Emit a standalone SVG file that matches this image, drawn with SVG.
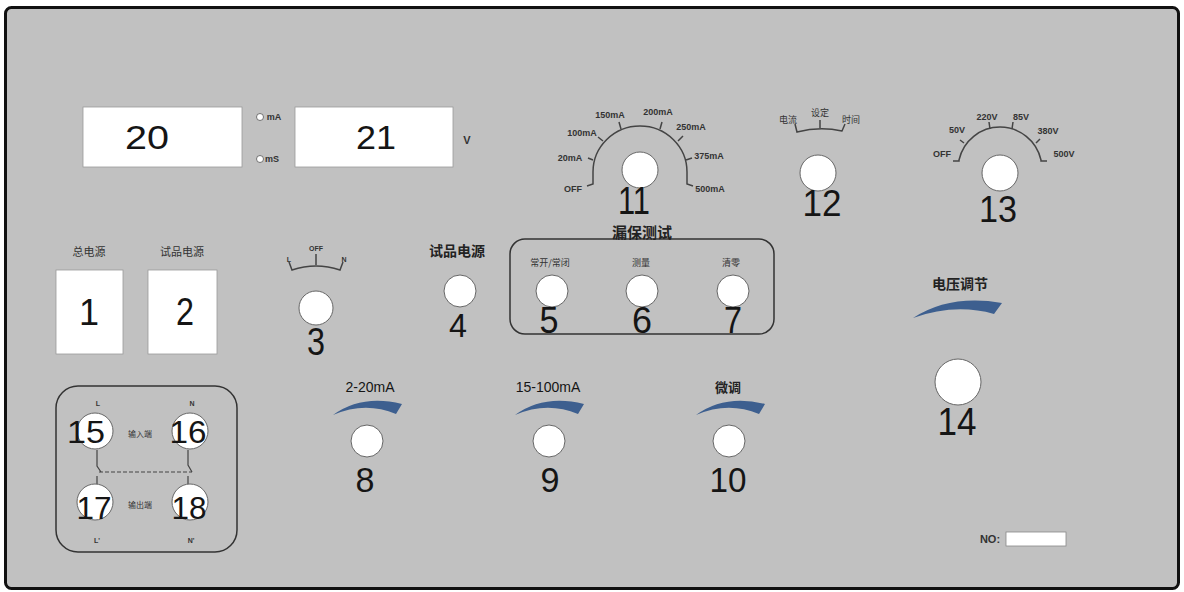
<svg xmlns="http://www.w3.org/2000/svg" width="1184" height="592" viewBox="0 0 1184 592">
<style>
.num{font-family:"Liberation Sans",Arial,sans-serif;fill:#151515;text-anchor:middle}
.lab{font-family:"Liberation Sans","Noto Sans CJK SC",sans-serif;fill:#333;text-anchor:middle;font-weight:bold}
.cn{font-family:"Noto Sans CJK SC",sans-serif;fill:#333;text-anchor:middle}
.title{font-family:"Noto Sans CJK SC",sans-serif;fill:#222;text-anchor:middle;font-weight:bold}
.knob{fill:#fff;stroke:#666;stroke-width:1}
.scale{fill:none;stroke:#444;stroke-width:1.5}
.swoosh{fill:#3d5f8f}
.wbox{fill:#fff;stroke:#999;stroke-width:0.8}
</style>
<rect x="0" y="0" width="1184" height="592" fill="#fff"/>
<rect id="panel" x="5.5" y="7.5" width="1173" height="581" rx="6" fill="#c1c1c1" stroke="#111" stroke-width="3"/>

<g id="display20">
<rect class="wbox" x="83" y="107" width="159" height="60"/>
<text class="num" x="147" y="149" font-size="33" textLength="44" lengthAdjust="spacingAndGlyphs">20</text>
</g>
<g id="unit-select">
<circle cx="260" cy="117" r="3.5" fill="#fff" stroke="#555" stroke-width="0.8"/>
<text class="lab" x="274" y="120" font-size="9">mA</text>
<circle cx="260" cy="159" r="3.5" fill="#fff" stroke="#555" stroke-width="0.8"/>
<text class="lab" x="272" y="162" font-size="9">mS</text>
</g>
<g id="display21">
<rect class="wbox" x="295" y="107" width="158" height="60"/>
<text class="num" x="376" y="149" font-size="33" textLength="40" lengthAdjust="spacingAndGlyphs">21</text>
<text class="lab" x="467" y="144" font-size="11">V</text>
</g>

<g id="dial11">
<path class="scale" d="M587,186 L593,184 L593,172 A47,46 0 0 1 687,172 L687,184 L693,186"/>
<path class="scale" d="M593,160 L588,158 M603,141 L598,137 M621,129 L619,122 M660,129 L662,122 M678,141 L683,136 M686,160 L692,158"/>
<text class="lab" x="573" y="192" font-size="9">OFF</text>
<text class="lab" x="570" y="161" font-size="9">20mA</text>
<text class="lab" x="582" y="136" font-size="9">100mA</text>
<text class="lab" x="610" y="118" font-size="9">150mA</text>
<text class="lab" x="658" y="115" font-size="9">200mA</text>
<text class="lab" x="691" y="130" font-size="9">250mA</text>
<text class="lab" x="709" y="159" font-size="9">375mA</text>
<text class="lab" x="710" y="192" font-size="9">500mA</text>
<circle class="knob" cx="640" cy="170" r="18"/>
<text class="num" x="634" y="214" font-size="38" textLength="32" lengthAdjust="spacingAndGlyphs">11</text>
</g>

<g id="dial12">
<text class="cn" x="788" y="123" font-size="9">电流</text>
<text class="cn" x="820" y="116" font-size="9">设定</text>
<text class="cn" x="851" y="123" font-size="9">时间</text>
<path class="scale" d="M795,124 L797,132 Q820,126 842,131 L845,124 M820,120 L820,128"/>
<circle class="knob" cx="818" cy="173" r="18"/>
<text class="num" x="822" y="216" font-size="36" textLength="39" lengthAdjust="spacingAndGlyphs">12</text>
</g>

<g id="dial13">
<path class="scale" d="M953,161 L959,161 L959,160 A42,42 0 0 1 1041,160 L1041,161 L1047,161"/>
<path class="scale" d="M964,143 L960,140 M990,129 L989,122 M1012,129 L1013,122 M1036,143 L1040,139"/>
<text class="lab" x="942" y="157" font-size="9">OFF</text>
<text class="lab" x="957" y="133" font-size="9">50V</text>
<text class="lab" x="987" y="120" font-size="9">220V</text>
<text class="lab" x="1021" y="120" font-size="9">85V</text>
<text class="lab" x="1048" y="134" font-size="9">380V</text>
<text class="lab" x="1064" y="157" font-size="9">500V</text>
<circle class="knob" cx="1000" cy="173" r="18"/>
<text class="num" x="998" y="222" font-size="36" textLength="38" lengthAdjust="spacingAndGlyphs">13</text>
</g>

<g id="switch1">
<text class="cn" x="89" y="256" font-size="11">总电源</text>
<rect class="wbox" x="56" y="270" width="67" height="84"/>
<text class="num" x="89" y="325" font-size="36">1</text>
</g>
<g id="switch2">
<text class="cn" x="182" y="256" font-size="11">试品电源</text>
<rect class="wbox" x="148" y="270" width="69" height="84"/>
<text class="num" x="185" y="325" font-size="38" textLength="18" lengthAdjust="spacingAndGlyphs">2</text>
</g>

<g id="knob3">
<text class="lab" x="289" y="262" font-size="7">L</text>
<text class="lab" x="316" y="251" font-size="7">OFF</text>
<text class="lab" x="344" y="262" font-size="7">N</text>
<path class="scale" d="M289,262 L292,270 Q316,262 340,270 L343,262 M316,254 L316,265" stroke-width="1.2"/>
<circle class="knob" cx="316" cy="308" r="17"/>
<text class="num" x="316" y="355" font-size="38" textLength="18" lengthAdjust="spacingAndGlyphs">3</text>
</g>

<g id="knob4">
<text class="title" x="457" y="256" font-size="14">试品电源</text>
<circle class="knob" cx="460" cy="291" r="16"/>
<text class="num" x="458" y="337" font-size="34" textLength="18" lengthAdjust="spacingAndGlyphs">4</text>
</g>

<g id="leak-test">
<rect x="510" y="239" width="264" height="95" rx="15" fill="none" stroke="#333" stroke-width="1.5"/>
<text class="title" x="642" y="238" font-size="15">漏保测试</text>
</g>
<g id="knob5">
<text class="cn" x="550" y="266" font-size="9">常开/常闭</text>
<circle class="knob" cx="552" cy="291" r="16"/>
<text class="num" x="549" y="333" font-size="36" textLength="19" lengthAdjust="spacingAndGlyphs">5</text>
</g>
<g id="knob6">
<text class="cn" x="641" y="266" font-size="9">测量</text>
<circle class="knob" cx="642" cy="291" r="16"/>
<text class="num" x="642" y="333" font-size="36" textLength="20" lengthAdjust="spacingAndGlyphs">6</text>
</g>
<g id="knob7">
<text class="cn" x="731" y="266" font-size="9">清零</text>
<circle class="knob" cx="733" cy="291" r="16"/>
<text class="num" x="733" y="333" font-size="36" textLength="18" lengthAdjust="spacingAndGlyphs">7</text>
</g>

<g id="knob8">
<text class="num" x="370" y="392" font-size="14" fill="#222">2-20mA</text>
<path class="swoosh" d="M333,415 Q362,394 402,404 L396,414 Q365,401 333,415 Z"/>
<circle class="knob" cx="367" cy="441" r="16"/>
<text class="num" x="365" y="492" font-size="35" textLength="19" lengthAdjust="spacingAndGlyphs">8</text>
</g>
<g id="knob9">
<text class="num" x="548" y="392" font-size="14" fill="#222">15-100mA</text>
<path class="swoosh" d="M515,415 Q544,394 584,404 L578,414 Q547,401 515,415 Z"/>
<circle class="knob" cx="549" cy="441" r="16"/>
<text class="num" x="550" y="492" font-size="35" textLength="19" lengthAdjust="spacingAndGlyphs">9</text>
</g>
<g id="knob10">
<text class="title" x="728" y="392" font-size="13">微调</text>
<path class="swoosh" d="M696,415 Q725,394 765,404 L759,414 Q728,401 696,415 Z"/>
<circle class="knob" cx="729" cy="441" r="16"/>
<text class="num" x="728" y="492" font-size="35" textLength="37" lengthAdjust="spacingAndGlyphs">10</text>
</g>

<g id="knob14">
<text class="title" x="960" y="289" font-size="14">电压调节</text>
<path class="swoosh" d="M913,318 Q950,294 1002,303 L994,314 Q955,303 913,318 Z"/>
<circle class="knob" cx="958" cy="382" r="23"/>
<text class="num" x="957" y="435" font-size="38" textLength="39" lengthAdjust="spacingAndGlyphs">14</text>
</g>

<g id="terminal-box">
<rect x="56" y="386" width="181" height="166" rx="22" fill="none" stroke="#333" stroke-width="1.5"/>
<text class="lab" x="98" y="406" font-size="7">L</text>
<text class="lab" x="192" y="406" font-size="7">N</text>
<text class="cn" x="140" y="437" font-size="8">输入端</text>
<text class="cn" x="140" y="508" font-size="8">输出端</text>
<text class="lab" x="97" y="543" font-size="7">L'</text>
<text class="lab" x="191" y="543" font-size="7">N'</text>
</g>
<g id="connectors" fill="none" stroke="#444" stroke-width="1.2">
<path d="M97,450 L97,466 L101,472"/>
<path d="M97,476 L97,484"/>
<path d="M188,450 L188,465 L192,472"/>
<path d="M188,476 L188,484"/>
<path d="M99,472 L192,472" stroke-dasharray="4,2"/>
</g>
<g id="t15">
<circle class="knob" cx="95" cy="431" r="18"/>
<text class="num" x="86" y="443" font-size="31" textLength="38" lengthAdjust="spacingAndGlyphs">15</text>
</g>
<g id="t16">
<circle class="knob" cx="190" cy="431" r="18"/>
<text class="num" x="188" y="443" font-size="31" textLength="37" lengthAdjust="spacingAndGlyphs">16</text>
</g>
<g id="t17">
<circle class="knob" cx="95" cy="502" r="18"/>
<text class="num" x="94" y="519" font-size="31" textLength="35" lengthAdjust="spacingAndGlyphs">17</text>
</g>
<g id="t18">
<circle class="knob" cx="190" cy="502" r="18"/>
<text class="num" x="189" y="519" font-size="31" textLength="35" lengthAdjust="spacingAndGlyphs">18</text>
</g>

<g id="serial">
<text class="lab" x="990" y="543" font-size="11" fill="#222">NO:</text>
<rect x="1006" y="532" width="60" height="14" fill="#fff" stroke="#888" stroke-width="0.8"/>
</g>
</svg>
